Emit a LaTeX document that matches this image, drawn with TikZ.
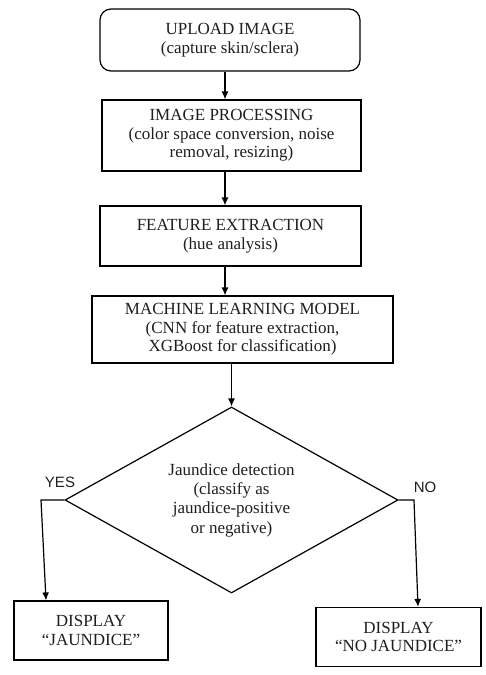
\documentclass[tikz,border=0pt]{standalone}
\usepackage{fontspec}
\setmainfont{Liberation Serif}
\newfontfamily\lsans{Liberation Sans}
\usetikzlibrary{shapes.geometric,arrows.meta,calc}
\definecolor{txt}{HTML}{1E1E24}
\begin{document}
\begin{tikzpicture}[x=1pt,y=-1pt,
  box/.style={draw=black,line width=1.2pt,inner sep=0pt,align=center,
    font=\fontsize{17}{18.5}\selectfont,text=txt},
  arr/.style={draw=black,line width=1.2pt,-{Latex[length=8pt,width=7pt]}},
  lbl/.style={font=\lsans\fontsize{15}{16}\selectfont,text=txt,inner sep=0pt}]
\useasboundingbox (0,0) rectangle (486,675);
\fill[white] (0,0) rectangle (486,675);

\node[box,rounded corners=11pt,minimum width=260pt,minimum height=62pt] (up) at (230,40)
  {UPLOAD IMAGE\\(capture skin/sclera)};
\node[box,minimum width=259pt,minimum height=71pt] (ip) at (231.5,135.5)
  {IMAGE PROCESSING\\(color space conversion, noise\\removal, resizing)};
\node[box,minimum width=261pt,minimum height=60pt] (fe) at (230.5,236)
  {FEATURE EXTRACTION\\(hue analysis)};
\node[box,minimum width=301pt,minimum height=67pt] (ml) at (242.5,329.5)
  {MACHINE LEARNING MODEL\\(CNN for feature extraction,\\XGBoost for classification)};
\node[draw=black,line width=1.2pt,diamond,inner sep=0pt,minimum width=333pt,minimum height=186pt] (dec) at (231.5,500) {};
\node[align=center,inner sep=0pt,font=\fontsize{17}{19.3}\selectfont,text=txt] (dect) at (231.5,500)
  {Jaundice detection\\(classify as\\jaundice-positive\\or negative)};
\node[box,minimum width=154pt,minimum height=59pt] (yb) at (91,630.5)
  {DISPLAY\\“JAUNDICE”};
\node[box,minimum width=165pt,minimum height=59pt] (nb) at (398.5,637)
  {DISPLAY\\“NO JAUNDICE”};

\coordinate (c1) at (225,0);
\draw[arr] (up.south -| c1) -- (ip.north -| c1);
\draw[arr] (ip.south -| c1) -- (fe.north -| c1);
\draw[arr] (fe.south -| c1) -- (ml.north -| c1);
\draw[arr] (ml.south -| dec.north) -- (dec.north);

\coordinate (yc) at (41,500);
\coordinate (ye) at (46,0);
\draw[arr] (dec.west) -- (yc) -- (yb.north -| ye);
\coordinate (nc) at (414,500);
\coordinate (ne) at (418,0);
\draw[arr] (dec.east) -- (nc) -- (nb.north -| ne);

\node[lbl] (yes) at (60,482) {YES};
\node[lbl] (no) at (425,487) {NO};
\end{tikzpicture}
\end{document}
